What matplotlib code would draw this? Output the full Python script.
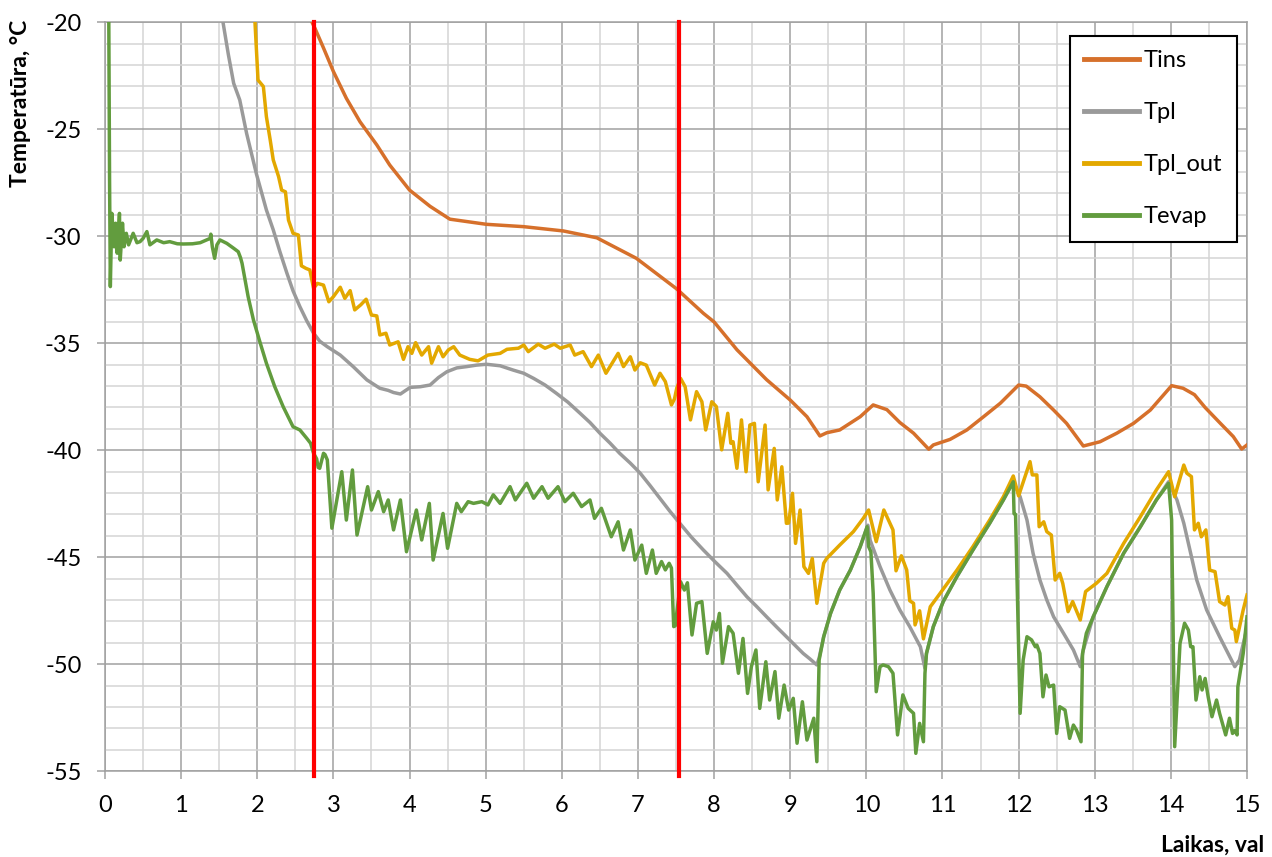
import matplotlib
matplotlib.use("Agg")
import matplotlib.pyplot as plt
from matplotlib.ticker import MultipleLocator

# ---- measured series (time in hours, temperature in deg C) ----
tins_t = [2.72, 2.76, 2.87, 3.0, 3.17, 3.35, 3.57, 3.74, 4.0, 4.27, 4.53, 5.01, 5.5, 6.02, 6.46,
          6.98, 7.51, 7.86, 8.0, 8.3, 8.69, 9.0, 9.22, 9.39, 9.48, 9.65, 9.92, 10.09, 10.27, 10.44,
          10.62, 10.82, 10.88, 11.1, 11.32, 11.54, 11.76, 12.0, 12.1, 12.28, 12.46, 12.63, 12.85,
          13.07, 13.29, 13.51, 13.73, 14.01, 14.16, 14.31, 14.45, 14.65, 14.82, 14.93, 15.0]
tins_v = [-20.0, -20.3, -21.2, -22.3, -23.55, -24.65, -25.73, -26.67, -27.84, -28.6, -29.2, -29.44,
          -29.55, -29.75, -30.07, -31.03, -32.46, -33.6, -34.0, -35.3, -36.7, -37.65, -38.43, -39.33,
          -39.18, -39.05, -38.43, -37.88, -38.1, -38.7, -39.2, -39.95, -39.75, -39.49, -39.05,
          -38.43, -37.8, -36.95, -37.0, -37.5, -38.12, -38.74, -39.8, -39.6, -39.2, -38.74, -38.12,
          -36.98, -37.1, -37.4, -38.0, -38.74, -39.36, -39.94, -39.75]

tpl_t = [1.55, 1.62, 1.69, 1.77, 1.86, 1.99, 2.12, 2.21, 2.3, 2.39, 2.47, 2.56, 2.65, 2.74, 2.82,
         2.92, 3.09, 3.26, 3.44, 3.61, 3.72, 3.79, 3.88, 3.95, 4.01, 4.14, 4.27, 4.38, 4.49, 4.62,
         4.75, 4.88, 5.01, 5.19, 5.36, 5.5, 5.63, 5.78, 5.93, 6.08, 6.24, 6.37, 6.5, 6.63, 6.76,
         6.9, 7.03, 7.16, 7.29, 7.42, 7.55, 7.7, 7.86, 8.01, 8.17, 8.3, 8.43, 8.56, 8.69, 8.82,
         8.95, 9.06, 9.17, 9.26, 9.35, 9.38, 9.44, 9.53, 9.65, 9.79, 9.92, 10.02, 10.05, 10.18,
         10.31, 10.44, 10.57, 10.71, 10.77, 10.79, 10.88, 11.01, 11.19, 11.4, 11.62, 11.8, 11.93,
         12.02, 12.11, 12.19, 12.28, 12.37, 12.46, 12.59, 12.72, 12.81, 12.85, 12.98, 13.16,
         13.38, 13.6, 13.81, 13.97, 14.08, 14.17, 14.26, 14.34, 14.47, 14.64, 14.84, 14.9, 15.0]
tpl_v = [-20.0, -21.5, -22.85, -23.63, -25.19, -27.1, -28.77, -29.7, -30.75, -31.73, -32.55,
         -33.29, -33.95, -34.53, -34.9, -35.16, -35.55, -36.09, -36.71, -37.1, -37.2, -37.3, -37.37,
         -37.2, -37.06, -37.03, -36.95, -36.6, -36.33, -36.15, -36.09, -36.02, -35.98, -36.05,
         -36.25, -36.4, -36.64, -36.95, -37.34, -37.75, -38.27, -38.7, -39.2, -39.65, -40.14,
         -40.6, -41.07, -41.65, -42.25, -42.85, -43.41, -44.05, -44.66, -45.2, -45.75, -46.3,
         -46.84, -47.3, -47.78, -48.25, -48.71, -49.1, -49.49, -49.75, -50.03, -49.7, -48.71,
         -47.62, -46.53, -45.6, -44.5, -43.5, -44.2, -45.44, -46.53, -47.46, -48.24, -49.18,
         -50.19, -49.49, -48.24, -47.07, -45.9, -44.66, -43.41, -42.32, -41.47, -42.17, -43.26,
         -44.81, -46.06, -46.99, -47.78, -48.55, -49.33, -50.11, -49.33, -47.78, -46.37, -44.81,
         -43.57, -42.32, -41.47, -42.32, -43.41, -44.81, -46.06, -47.46, -48.71, -50.11, -49.8,
         -48.3]

tplout_t = [1.97, 2.01, 2.08, 2.12, 2.17, 2.21, 2.28, 2.32, 2.37, 2.41, 2.47, 2.54, 2.58, 2.64,
            2.69, 2.74, 2.79, 2.87, 2.94, 3.0, 3.09, 3.15, 3.22, 3.28, 3.36, 3.43, 3.5, 3.57, 3.61,
            3.69, 3.74, 3.85, 3.92, 3.98, 4.03, 4.08, 4.16, 4.25, 4.29, 4.38, 4.44, 4.51, 4.58,
            4.66, 4.79, 4.9, 5.03, 5.19, 5.28, 5.43, 5.5, 5.56, 5.69, 5.78, 5.9, 5.98, 6.11, 6.17,
            6.28, 6.39, 6.48, 6.58, 6.74, 6.81, 6.9, 6.96, 7.03, 7.11, 7.22, 7.29, 7.36, 7.44,
            7.48, 7.51, 7.56, 7.62, 7.69, 7.77, 7.84, 7.89, 7.97, 8.03, 8.1, 8.18, 8.22, 8.25, 8.3,
            8.36, 8.42, 8.47, 8.53, 8.58, 8.67, 8.71, 8.79, 8.83, 8.89, 8.95, 8.98, 9.03, 9.07,
            9.13, 9.18, 9.24, 9.29, 9.35, 9.44, 9.48, 9.65, 9.83, 9.96, 10.03, 10.13, 10.23, 10.27,
            10.35, 10.39, 10.46, 10.53, 10.57, 10.62, 10.64, 10.7, 10.75, 10.84, 10.97, 11.19,
            11.4, 11.62, 11.8, 11.93, 12.0, 12.15, 12.18, 12.24, 12.27, 12.33, 12.37, 12.43,
            12.48, 12.54, 12.58, 12.65, 12.71, 12.81, 12.88, 13.02, 13.16, 13.38, 13.6, 13.81,
            13.97, 14.05, 14.17, 14.21, 14.27, 14.31, 14.36, 14.4, 14.46, 14.51, 14.58, 14.64,
            14.71, 14.75, 14.8, 14.84, 14.86, 14.95, 15.0]
tplout_v = [-20.0, -22.7, -23.0, -24.41, -25.5, -26.43, -27.21, -27.84, -27.92, -29.24, -29.86,
            -29.94, -31.38, -31.5, -31.57, -32.43, -32.2, -32.28, -33.06, -32.82, -32.38, -32.9,
            -32.54, -33.44, -33.2, -32.94, -33.68, -33.72, -34.61, -34.53, -35.08, -34.93, -35.75,
            -35.16, -35.47, -34.97, -35.55, -35.16, -35.93, -35.16, -35.63, -35.31, -35.16,
            -35.55, -35.75, -35.82, -35.55, -35.47, -35.28, -35.23, -35.08, -35.39, -35.04,
            -35.23, -35.04, -35.23, -35.08, -35.55, -35.39, -36.09, -35.55, -36.4, -35.47, -36.09,
            -35.63, -36.25, -35.91, -36.02, -36.95, -36.4, -36.79, -37.88, -37.6, -37.1, -36.64,
            -37.03, -38.58, -37.26, -37.73, -39.05, -37.73, -37.96, -39.98, -38.27, -39.67,
            -39.6, -40.84, -38.58, -41.0, -38.82, -38.74, -41.47, -38.82, -41.85, -39.91, -42.32,
            -40.77, -43.41, -43.4, -42.01, -44.35, -42.79, -45.44, -45.75, -45.05, -47.15,
            -45.28, -45.05, -44.43, -43.8, -43.18, -42.79, -44.27, -42.79, -43.1, -43.72, -45.63,
            -44.93, -45.59, -47.03, -47.15, -48.16, -47.5, -48.81, -47.31, -46.68, -45.6, -44.5,
            -43.26, -42.17, -41.2, -42.13, -40.53, -41.15, -41.15, -43.57, -43.34, -43.8, -43.96,
            -46.06, -45.75, -46.22, -47.54, -47.07, -47.93, -46.6, -46.22, -45.75, -44.35, -43.1,
            -41.85, -41.0, -42.17, -40.69, -41.07, -41.23, -43.72, -43.41, -44.04, -43.72, -45.6,
            -45.67, -47.07, -47.23, -46.84, -48.32, -48.4, -48.94, -47.46, -46.76]

tevap_t = [0.05, 0.06, 0.07, 0.09, 0.12, 0.14, 0.16, 0.19, 0.2, 0.23, 0.25, 0.28, 0.31, 0.37,
           0.42, 0.46, 0.5, 0.55, 0.59, 0.68, 0.77, 0.85, 0.95, 1.03, 1.15, 1.25, 1.38, 1.39,
           1.41, 1.44, 1.47, 1.51, 1.6, 1.69, 1.75, 1.78, 1.8, 1.84, 1.88, 1.95, 2.04, 2.12, 2.23,
           2.34, 2.47, 2.56, 2.65, 2.7, 2.74, 2.78, 2.8, 2.82, 2.87, 2.89, 2.92, 2.98, 3.11,
           3.17, 3.25, 3.31, 3.45, 3.5, 3.59, 3.66, 3.72, 3.79, 3.88, 3.96, 4.09, 4.16, 4.26,
           4.31, 4.44, 4.5, 4.62, 4.68, 4.77, 4.84, 4.95, 5.03, 5.1, 5.19, 5.32, 5.39, 5.54,
           5.63, 5.74, 5.82, 5.95, 6.04, 6.15, 6.26, 6.37, 6.43, 6.52, 6.65, 6.74, 6.81, 6.9,
           6.96, 7.05, 7.11, 7.19, 7.24, 7.31, 7.36, 7.41, 7.44, 7.47, 7.49, 7.56, 7.61, 7.65,
           7.71, 7.77, 7.84, 7.91, 7.99, 8.03, 8.07, 8.11, 8.19, 8.25, 8.32, 8.38, 8.44, 8.49,
           8.55, 8.6, 8.68, 8.73, 8.8, 8.85, 8.92, 8.98, 9.04, 9.09, 9.16, 9.22, 9.31, 9.35,
           9.38, 9.44, 9.53, 9.65, 9.79, 9.92, 10.01, 10.03, 10.06, 10.09, 10.13, 10.18, 10.22,
           10.29, 10.35, 10.41, 10.48, 10.55, 10.62, 10.65, 10.7, 10.75, 10.77, 10.79, 10.88,
           11.01, 11.19, 11.4, 11.62, 11.8, 11.93, 11.94, 11.96, 12.02, 12.06, 12.11, 12.17,
           12.22, 12.24, 12.28, 12.32, 12.36, 12.4, 12.46, 12.5, 12.54, 12.61, 12.67, 12.72,
           12.76, 12.82, 12.84, 12.89, 12.98, 13.16, 13.38, 13.6, 13.81, 13.97, 14.01, 14.05,
           14.12, 14.18, 14.23, 14.26, 14.29, 14.33, 14.38, 14.41, 14.45, 14.49, 14.54, 14.6,
           14.64, 14.72, 14.77, 14.81, 14.84, 14.87, 14.88, 14.95, 15.0]
tevap_v = [-20.0, -27.4, -32.35, -28.93, -30.49, -29.39, -30.79, -28.93, -31.11, -29.39, -30.49,
           -29.86, -30.4, -29.86, -30.3, -30.25, -30.1, -29.78, -30.4, -30.17, -30.3, -30.25,
           -30.35, -30.36, -30.35, -30.3, -30.1, -29.9, -30.5, -31.03, -30.4, -30.17, -30.33,
           -30.56, -30.72, -31.0, -31.26, -32.04, -32.82, -33.91, -35.0, -35.93, -37.03, -37.96,
           -38.9, -39.05, -39.44, -39.67, -40.14, -40.4, -40.8, -40.84, -40.14, -40.2, -40.45,
           -43.64, -41.0, -43.26, -40.92, -43.96, -41.7, -42.79, -41.93, -42.87, -42.32, -43.72,
           -42.32, -44.74, -42.79, -44.19, -42.48, -45.13, -42.95, -44.58, -42.48, -42.87,
           -42.4, -42.48, -42.4, -42.55, -42.08, -42.48, -41.7, -42.32, -41.54, -42.24, -41.7,
           -42.24, -41.7, -42.4, -42.01, -42.63, -42.32, -43.18, -42.71, -44.04, -43.34, -44.66,
           -43.72, -45.13, -44.43, -45.75, -44.66, -45.75, -45.2, -45.59, -45.28, -45.5, -48.24,
           -48.2, -46.14, -46.53, -46.19, -48.63, -47.15, -47.07, -49.49, -48.01, -48.4, -47.62,
           -49.95, -48.24, -48.55, -50.42, -48.79, -51.36, -50.11, -49.33, -52.06, -49.88,
           -51.67, -50.34, -52.52, -50.97, -52.14, -51.59, -53.69, -51.75, -53.54, -52.52,
           -54.55, -49.8, -48.71, -47.62, -46.53, -45.6, -44.5, -43.57, -44.5, -44.74, -46.68,
           -51.28, -50.11, -50.03, -50.11, -50.42, -53.3, -51.43, -52.06, -52.29, -54.16,
           -52.76, -53.62, -50.42, -49.49, -48.24, -47.07, -45.9, -44.66, -43.41, -42.32,
           -41.47, -42.96, -43.0, -52.29, -49.8, -48.71, -48.86, -49.18, -49.1, -49.49, -51.52,
           -50.5, -51.05, -50.97, -53.23, -51.98, -52.14, -53.46, -52.84, -53.07, -53.62,
           -49.49, -48.55, -47.78, -46.37, -44.81, -43.57, -42.32, -41.55, -43.26, -53.85,
           -49.02, -48.08, -48.4, -49.18, -49.18, -51.67, -50.58, -51.2, -50.66, -51.52, -52.45,
           -51.67, -52.29, -53.3, -52.52, -53.23, -53.1, -53.3, -51.05, -49.49, -47.78]

# stage boundaries (hours)
stage_marks = [2.75, 7.54]

series_names = ["Tins", "Tpl", "Tpl_out", "Tevap"]
series_colors = ["#D6702B", "#9A9A9A", "#E3A800", "#629C3E"]

plt.rcParams["font.family"] = ["Lato", "DejaVu Sans"]

fig = plt.figure(figsize=(12.72, 8.57), dpi=100)
ax = fig.add_axes([105 / 1272, 1 - 771.3 / 857, 1142 / 1272, 749 / 857])

data = [(tins_t, tins_v), (tpl_t, tpl_v), (tplout_t, tplout_v), (tevap_t, tevap_v)]
for (t, v), name, col in zip(data, series_names, series_colors):
    ax.plot(t, v, color=col, lw=2.5, label=name, solid_joinstyle="round", zorder=3)

for xm in stage_marks:
    ax.axvline(xm, ymin=-0.006, ymax=1, color="#FF0000", lw=3.0, zorder=4, clip_on=False)

ax.set_xlim(0, 15)
ax.set_ylim(-55, -20)
ax.xaxis.set_major_locator(MultipleLocator(1))
ax.xaxis.set_minor_locator(MultipleLocator(0.5))
ax.yaxis.set_major_locator(MultipleLocator(5))
ax.yaxis.set_minor_locator(MultipleLocator(1))

ax.grid(which="major", color="#A0A0A0", lw=1.1, zorder=0)
ax.grid(which="minor", color="#D4D4D4", lw=1.1, zorder=0)
ax.set_axisbelow(True)

for s in ax.spines.values():
    s.set_color("#A0A0A0")
    s.set_linewidth(1.1)

ax.tick_params(which="major", direction="out", length=6, width=1.1, color="#A0A0A0",
               labelsize=17, labelcolor="black")
ax.tick_params(axis="y", which="major", pad=11)
ax.tick_params(axis="x", which="major", pad=11)
ax.tick_params(which="minor", length=0)

ax.set_xticklabels([str(int(v)) for v in ax.get_xticks()])
ax.set_yticklabels([str(int(v)) for v in ax.get_yticks()])

fig.text(21 / 1272, 1 - 103 / 857, "Temperatūra, °C", rotation=90, ha="center", va="center",
         fontsize=16.5, fontweight="bold")
fig.text(1213 / 1272, 1 - 845 / 857, "Laikas, val", ha="center", va="center",
         fontsize=16.5, fontweight="bold")

leg = ax.legend(loc="upper right", bbox_to_anchor=(0.991, 0.982), borderaxespad=0,
                fontsize=17, labelspacing=1.32, handlelength=2.35, handletextpad=0.2,
                borderpad=0.6, fancybox=False, framealpha=1, edgecolor="black")
leg.get_frame().set_linewidth(1.5)
for h in leg.get_lines():
    h.set_linewidth(3.5)

fig.savefig("out.png", dpi=100)
